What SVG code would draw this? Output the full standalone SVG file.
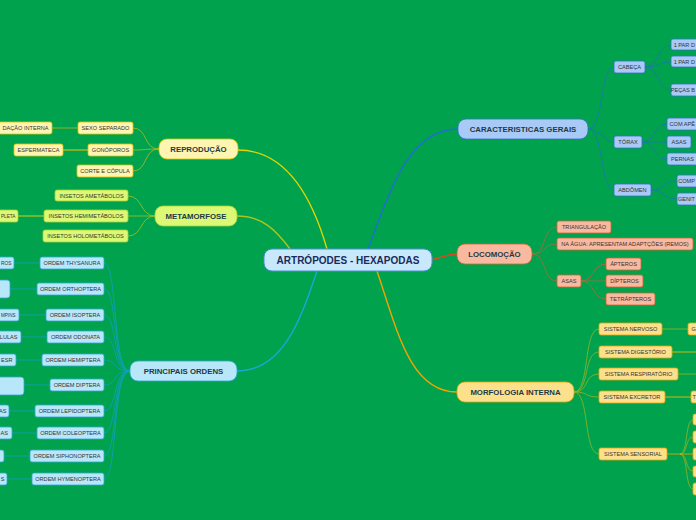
<svg xmlns="http://www.w3.org/2000/svg" width="696" height="520" viewBox="0 0 696 520">
<style>
text{font-family:"Liberation Sans",Arial,sans-serif;}
.s{font-size:5.6px;fill:#333;text-anchor:middle;}
.sl{font-size:5.6px;fill:#333;text-anchor:start;}
.se{font-size:5.6px;fill:#333;text-anchor:end;}
.m{font-size:7.8px;font-weight:bold;fill:#1d3b46;text-anchor:middle;}
.c{font-size:10px;font-weight:bold;fill:#1b2a5c;text-anchor:middle;}
.blue{fill:#a9c9f7;stroke:#2f73c4;stroke-width:0.8;}
.sal{fill:#f9b9a0;stroke:#d2642f;stroke-width:0.8;}
.yel{fill:#fde08c;stroke:#e3a400;stroke-width:0.8;}
.lyel{fill:#fff5b2;stroke:#d9c400;stroke-width:0.8;}
.lime{fill:#ddf874;stroke:#a8d030;stroke-width:0.8;}
.cyan{fill:#b9e7fa;stroke:#2ea6d6;stroke-width:0.8;}
</style>
<rect x="0" y="0" width="696" height="520" fill="#00a24e"/>
<g id="connectors" fill="none">
 <path d="M368,249 C392,185 410,129 458,129" stroke="#1f6fd0" stroke-width="1.4"/>
 <path d="M431,260 C442,258 446,254 457,254" stroke="#e4461e" stroke-width="1.4"/>
 <path d="M377,271 C397,330 410,392 457,392" stroke="#f2a400" stroke-width="1.4"/>
 <path d="M327,249 C310,190 282,150 238,150" stroke="#e6d400" stroke-width="1.4"/>
 <path d="M290,249 C276,230 262,216 237,216" stroke="#acc41e" stroke-width="1.4"/>
 <path d="M317,271 C300,322 282,371 237,371" stroke="#18a8d8" stroke-width="1.4"/>
 <g stroke="#1f74b8" stroke-width="0.8">
  <path d="M588,129 C604,129 600,67 614,67"/>
  <path d="M588,129 C600,129 605,142 614,142"/>
  <path d="M588,129 C604,129 600,190 614,190"/>
  <path d="M645,67 C660,67 657,45 671,45"/>
  <path d="M645,67 C660,67 657,62 671,62"/>
  <path d="M645,67 C660,67 657,90 671,90"/>
  <path d="M642,142 C656,142 653,124 667,124"/>
  <path d="M642,142 L667,142"/>
  <path d="M642,142 C656,142 653,159 667,159"/>
  <path d="M651,190 C665,190 662,181 677,181"/>
  <path d="M651,190 C665,190 662,199 677,199"/>
 </g>
 <g stroke="#b2683a" stroke-width="0.8">
  <path d="M532,254 C547,254 542,227 557,227"/>
  <path d="M532,254 C547,254 542,244 557,244"/>
  <path d="M532,254 C547,254 542,281 557,281"/>
  <path d="M581,281 C595,281 592,264 606,264"/>
  <path d="M581,281 L606,281"/>
  <path d="M581,281 C595,281 592,299 606,299"/>
 </g>
 <g stroke="#94b424" stroke-width="0.8">
  <path d="M574,392 C590,392 583,329 599,329"/>
  <path d="M574,392 C590,392 583,352 599,352"/>
  <path d="M574,392 C590,392 583,374 599,374"/>
  <path d="M574,392 C590,392 583,397 599,397"/>
  <path d="M574,392 C590,392 583,454 599,454"/>
  <path d="M662,329 L688,329"/>
  <path d="M672,352 L696,352" stroke-width="1.4"/>
  <path d="M678,374 L696,374"/>
  <path d="M665,397 L691,397" stroke-width="1.4"/>
  <path d="M680,454 C688,454 685,420 693,420"/>
  <path d="M680,454 C688,454 685,437 693,437"/>
  <path d="M680,454 C688,454 685,471 693,471"/>
  <path d="M680,454 C688,454 685,489 693,489"/>
  <path d="M667,454 L693,454" stroke="#f2a400"/>
 </g>
 <g stroke="#b4b81e" stroke-width="0.8">
  <path d="M159,149 C143,149 148,128 133,128"/>
  <path d="M159,149 C145,149 146,150 133,150"/>
  <path d="M159,149 C143,149 148,171 133,171"/>
  <path d="M78,128 L52,128"/>
  <path d="M88,150 L63,150" stroke-width="1.4"/>
 </g>
 <g stroke="#98c424" stroke-width="0.8">
  <path d="M155,216 C140,216 143,196 128,196"/>
  <path d="M155,216 L128,216"/>
  <path d="M155,216 C140,216 143,236 128,236"/>
  <path d="M44,216 L18,216" stroke-width="1.4"/>
 </g>
 <g stroke="#12a0c4" stroke-width="0.8">
  <path d="M130,371 C112,371 118,263 104,263"/>
  <path d="M130,371 C112,371 118,289 104,289"/>
  <path d="M130,371 C112,371 118,315 104,315"/>
  <path d="M130,371 C112,371 118,337 104,337"/>
  <path d="M130,371 C112,371 118,360 104,360"/>
  <path d="M130,371 C112,371 118,385 104,385"/>
  <path d="M130,371 C112,371 118,411 104,411"/>
  <path d="M130,371 C112,371 118,433 104,433"/>
  <path d="M130,371 C112,371 118,456 104,456"/>
  <path d="M130,371 C112,371 118,479 104,479"/>
  <path d="M40,263 L14,263"/>
  <path d="M37,289 L10,289"/>
  <path d="M46,315 L19,315"/>
  <path d="M47,337 L21,337"/>
  <path d="M42,360 L16,360"/>
  <path d="M50,385 L24,385"/>
  <path d="M35,411 L9,411"/>
  <path d="M37,433 L12,433"/>
  <path d="M30,456 L4,456"/>
  <path d="M32,479 L7,479"/>
 </g>
</g>
<g id="central"><rect x="264" y="249" width="168" height="22" rx="8" fill="#c8e9fb" stroke="#4a8fd6" stroke-width="1"/><text class="c" x="348" y="263.5">ARTRÓPODES - HEXAPODAS</text></g>
<g id="caracteristicas"><rect class="blue" x="458" y="119" width="130" height="20" rx="8"/><text class="m" x="523" y="131.8">CARACTERISTICAS GERAIS</text></g>
<g id="cabeca"><rect class="blue" x="614" y="61" width="31" height="12" rx="2"/><text class="s" x="629.5" y="69">CABEÇA</text></g>
<g id="torax"><rect class="blue" x="614" y="136" width="28" height="12" rx="2"/><text class="s" x="628" y="144">TÓRAX</text></g>
<g id="abdomen"><rect class="blue" x="614" y="184" width="37" height="12" rx="2"/><text class="s" x="632.5" y="192">ABDÔMEN</text></g>
<g id="cab1"><rect class="blue" x="671" y="39" width="40" height="11" rx="2"/><text class="se" x="695" y="46.5">1 PAR D</text></g>
<g id="cab2"><rect class="blue" x="671" y="56" width="40" height="11" rx="2"/><text class="se" x="695" y="63.5">1 PAR D</text></g>
<g id="cab3"><rect class="blue" x="671" y="84" width="40" height="12" rx="2"/><text class="se" x="695" y="92">PEÇAS B</text></g>
<g id="tor1"><rect class="blue" x="667" y="118" width="40" height="12" rx="2"/><text class="se" x="695" y="126">COM APÊ</text></g>
<g id="tor2"><rect class="blue" x="667" y="136" width="24" height="12" rx="2"/><text class="s" x="679" y="144">ASAS</text></g>
<g id="tor3"><rect class="blue" x="667" y="153" width="32" height="12" rx="2"/><text class="sl" x="671" y="161">PERNAS</text></g>
<g id="abd1"><rect class="blue" x="677" y="175" width="30" height="12" rx="2"/><text class="se" x="695" y="183">COMP</text></g>
<g id="abd2"><rect class="blue" x="677" y="193" width="30" height="12" rx="2"/><text class="se" x="695" y="201">GENIT</text></g>
<g id="locomocao"><rect class="sal" x="457" y="244" width="75" height="20" rx="8"/><text class="m" x="494.5" y="256.8">LOCOMOÇÃO</text></g>
<g id="triangulacao"><rect class="sal" x="557" y="221" width="54" height="12" rx="2"/><text class="s" x="584" y="229">TRIANGULAÇÃO</text></g>
<g id="naagua"><rect class="sal" x="557" y="238" width="136" height="12" rx="2"/><text class="s" x="625" y="246">NA ÁGUA: APRESENTAM ADAPTÇÕES (REMOS)</text></g>
<g id="asas"><rect class="sal" x="557" y="275" width="24" height="12" rx="2"/><text class="s" x="569" y="283">ASAS</text></g>
<g id="apteros"><rect class="sal" x="606" y="258" width="35" height="12" rx="2"/><text class="s" x="623.5" y="266">ÁPTEROS</text></g>
<g id="dipteros"><rect class="sal" x="606" y="275" width="37" height="12" rx="2"/><text class="s" x="624.5" y="283">DÍPTEROS</text></g>
<g id="tetrapteros"><rect class="sal" x="606" y="293" width="49" height="12" rx="2"/><text class="s" x="630.5" y="301">TETRÁPTEROS</text></g>
<g id="morfologia"><rect class="yel" x="457" y="382" width="117" height="20" rx="8"/><text class="m" x="515.5" y="394.8">MORFOLOGIA INTERNA</text></g>
<g id="nervoso"><rect class="yel" x="599" y="323" width="63" height="12" rx="2"/><text class="s" x="630.5" y="331">SISTEMA NERVOSO</text></g>
<g id="nervoso1"><rect class="yel" x="688" y="323" width="20" height="12" rx="2"/><text class="sl" x="691.5" y="331">G</text></g>
<g id="digestorio"><rect class="yel" x="599" y="346" width="73" height="12" rx="2"/><text class="s" x="635.5" y="354">SISTEMA DIGESTÓRIO</text></g>
<g id="respiratorio"><rect class="yel" x="599" y="368" width="79" height="12" rx="2"/><text class="s" x="638.5" y="376">SISTEMA RESPIRATÓRIO</text></g>
<g id="excretor"><rect class="yel" x="599" y="391" width="66" height="12" rx="2"/><text class="s" x="632" y="399">SISTEMA EXCRETOR</text></g>
<g id="excretor1"><rect class="yel" x="691" y="391" width="20" height="12" rx="2"/><text class="sl" x="692.5" y="399">T</text></g>
<g id="sensorial"><rect class="yel" x="599" y="448" width="68" height="12" rx="2"/><text class="s" x="633" y="456">SISTEMA SENSORIAL</text></g>
<g id="sens1"><rect class="yel" x="693" y="414" width="20" height="11" rx="2"/></g>
<g id="sens2"><rect class="yel" x="693" y="431" width="20" height="12" rx="2"/></g>
<g id="sens3"><rect class="yel" x="693" y="448" width="20" height="12" rx="2"/></g>
<g id="sens4"><rect class="yel" x="693" y="466" width="20" height="11" rx="2"/></g>
<g id="sens5"><rect class="yel" x="693" y="483" width="20" height="12" rx="2"/></g>
<g id="reproducao"><rect class="lyel" x="159" y="139" width="79" height="20" rx="8"/><text class="m" x="198.5" y="151.8">REPRODUÇÃO</text></g>
<g id="sexo"><rect class="lyel" x="78" y="122" width="55" height="12" rx="2"/><text class="s" x="105.5" y="130">SEXO SEPARADO</text></g>
<g id="fecundacao"><rect class="lyel" x="-24" y="122" width="76" height="12" rx="2"/><text class="se" x="48.5" y="130">DAÇÃO INTERNA</text></g>
<g id="gonoporos"><rect class="lyel" x="88" y="144" width="45" height="12" rx="2"/><text class="s" x="110.5" y="152">GONÓPOROS</text></g>
<g id="espermateca"><rect class="lyel" x="14" y="144" width="49" height="12" rx="2"/><text class="s" x="38.5" y="152">ESPERMATECA</text></g>
<g id="corte"><rect class="lyel" x="77" y="165" width="56" height="12" rx="2"/><text class="s" x="105" y="173">CORTE E CÓPULA</text></g>
<g id="metamorfose"><rect class="lime" x="155" y="206" width="82" height="20" rx="8"/><text class="m" x="196" y="218.8">METAMORFOSE</text></g>
<g id="ametabolos"><rect class="lime" x="55" y="190" width="73" height="11" rx="2"/><text class="s" x="91.5" y="197.7">INSETOS AMETÁBOLOS</text></g>
<g id="hemimetabolos"><rect class="lime" x="44" y="210" width="84" height="12" rx="2"/><text class="s" x="86" y="218">INSETOS HEMIMETÁBOLOS</text></g>
<g id="incompleta"><rect class="lime" x="-20" y="210" width="38" height="12" rx="2"/><text class="sl" x="1" y="218" textLength="14.5" lengthAdjust="spacingAndGlyphs">PLETA</text></g>
<g id="holometabolos"><rect class="lime" x="43" y="230" width="85" height="12" rx="2"/><text class="s" x="85.5" y="238">INSETOS HOLOMETÁBOLOS</text></g>
<g id="ordens"><rect class="cyan" x="130" y="361" width="107" height="20" rx="8"/><text class="m" x="183.5" y="373.8">PRINCIPAIS ORDENS</text></g>
<g id="thysanura"><rect class="cyan" x="40" y="257" width="64" height="12" rx="2"/><text class="s" x="72" y="265">ORDEM THYSANURA</text></g>
<g id="thy1"><rect class="cyan" x="-20" y="257" width="34" height="12" rx="2"/><text class="sl" x="1" y="265" textLength="10.5" lengthAdjust="spacingAndGlyphs">ROS</text></g>
<g id="orthoptera"><rect class="cyan" x="37" y="283" width="67" height="12" rx="2"/><text class="s" x="70.5" y="291">ORDEM ORTHOPTERA</text></g>
<g id="ort1"><rect class="cyan" x="-20" y="280" width="30" height="18" rx="3"/></g>
<g id="isoptera"><rect class="cyan" x="46" y="309" width="58" height="12" rx="2"/><text class="s" x="75" y="317">ORDEM ISOPTERA</text></g>
<g id="iso1"><rect class="cyan" x="-20" y="309" width="39" height="12" rx="2"/><text class="sl" x="1" y="317" textLength="14.5" lengthAdjust="spacingAndGlyphs">MPINS</text></g>
<g id="odonata"><rect class="cyan" x="47" y="331" width="57" height="12" rx="2"/><text class="s" x="75.5" y="339">ORDEM ODONATA</text></g>
<g id="odo1"><rect class="cyan" x="-20" y="331" width="41" height="12" rx="2"/><text class="se" x="17.5" y="339">LULAS</text></g>
<g id="hemiptera"><rect class="cyan" x="42" y="354" width="62" height="12" rx="2"/><text class="s" x="73" y="362">ORDEM HEMIPTERA</text></g>
<g id="hem1"><rect class="cyan" x="-20" y="354" width="36" height="12" rx="2"/><text class="se" x="12.5" y="362">ESR</text></g>
<g id="diptera"><rect class="cyan" x="50" y="379" width="54" height="12" rx="2"/><text class="s" x="77" y="387">ORDEM DIPTERA</text></g>
<g id="dip1"><rect class="cyan" x="-20" y="377" width="44" height="18" rx="3"/></g>
<g id="lepidoptera"><rect class="cyan" x="35" y="405" width="69" height="12" rx="2"/><text class="s" x="69.5" y="413">ORDEM LEPIDOPTERA</text></g>
<g id="lep1"><rect class="cyan" x="-20" y="405" width="29" height="12" rx="2"/><text class="se" x="6.5" y="413">AS</text></g>
<g id="coleoptera"><rect class="cyan" x="37" y="427" width="67" height="12" rx="2"/><text class="s" x="70.5" y="435">ORDEM COLEOPTERA</text></g>
<g id="col1"><rect class="cyan" x="-20" y="427" width="32" height="12" rx="2"/><text class="se" x="8" y="435">AS</text></g>
<g id="siphonoptera"><rect class="cyan" x="30" y="450" width="74" height="12" rx="2"/><text class="s" x="67" y="458">ORDEM SIPHONOPTERA</text></g>
<g id="sip1"><rect class="cyan" x="-20" y="450" width="24" height="12" rx="2"/></g>
<g id="hymenoptera"><rect class="cyan" x="32" y="473" width="72" height="12" rx="2"/><text class="s" x="68" y="481">ORDEM HYMENOPTERA</text></g>
<g id="hym1"><rect class="cyan" x="-20" y="473" width="27" height="12" rx="2"/><text class="se" x="4.5" y="481">S</text></g>
</svg>
